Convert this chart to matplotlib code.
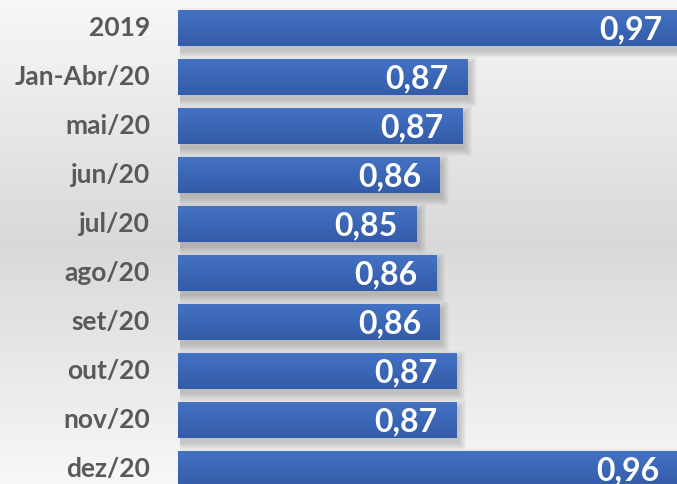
import numpy as np
import matplotlib
matplotlib.use("Agg")
from matplotlib import pyplot as plt
from matplotlib.patches import Rectangle

# data (labels show values rounded to 2 decimals)
categories = ['2019', 'Jan-Abr/20', 'mai/20', 'jun/20', 'jul/20',
              'ago/20', 'set/20', 'out/20', 'nov/20', 'dez/20']
values = [0.9652, 0.8722, 0.870, 0.860, 0.850,
          0.8583, 0.860, 0.867, 0.8674, 0.9639]

x_min = 0.7461
x_max = 0.9631

plt.rcParams['font.family'] = ['Lato', 'DejaVu Sans']

fig = plt.figure(figsize=(6.77, 4.84), dpi=100)

# background: light grey vertical gradient, darker in the middle
bg = fig.add_axes([0, 0, 1, 1])
t = np.linspace(0, 1, 256)
shade = 0.85 + 0.12 * np.abs(t - 0.5) * 2
shade = np.clip(shade, 0, 0.975)
bg.imshow(np.dstack([shade, shade, shade])[:, None, :].reshape(256, 1, 3),
          aspect='auto', extent=[0, 1, 0, 1], origin='upper')
bg.axis('off')

ax = fig.add_axes([178 / 677, 0, 1 - 178 / 677, 1])
ax.set_xlim(x_min, x_max)
ax.set_ylim(9.306, -0.571)
ax.axis('off')

h = 0.735
top = np.array([0x44, 0x72, 0xC4]) / 255
bot = np.array([0x33, 0x5C, 0xA8]) / 255
grad = np.array([top + (bot - top) * s for s in np.linspace(0, 1, 64)])[:, None, :]

px = (x_max - x_min) / 499.0  # one pixel in data units
py = 1 / 49.0

for i, (cat, v) in enumerate(zip(categories, values)):
    w = v - x_min
    # soft shadow, mostly below and to the right
    for k in range(8):
        grow = k * 1.0
        ax.add_patch(Rectangle((x_min + 2 * px, i - h / 2 + 5 * py - grow * py),
                               w + grow * px, h + 2 * grow * py,
                               color='black', alpha=0.022, lw=0, zorder=1))
    bar = Rectangle((x_min, i - h / 2), w, h, facecolor=top, lw=0, zorder=2)
    ax.add_patch(bar)
    im = ax.imshow(grad, aspect='auto', extent=[x_min, v, i + h / 2, i - h / 2],
                   origin='upper', zorder=3)
    im.set_clip_path(bar)
    ax.text(v - 19 * px, i + 0.04, f'{v:.2f}'.replace('.', ','), ha='right', va='center',
            color='white', fontsize=23, fontweight='bold', zorder=4)
    fig.text(150 / 677, 1 - (28 + 49 * i) / 484, cat, ha='right', va='center',
             color='#595959', fontsize=19, fontweight='bold')

ax.set_xlim(x_min, x_max)
ax.set_ylim(9.306, -0.571)

plt.savefig('out.png', dpi=100)
